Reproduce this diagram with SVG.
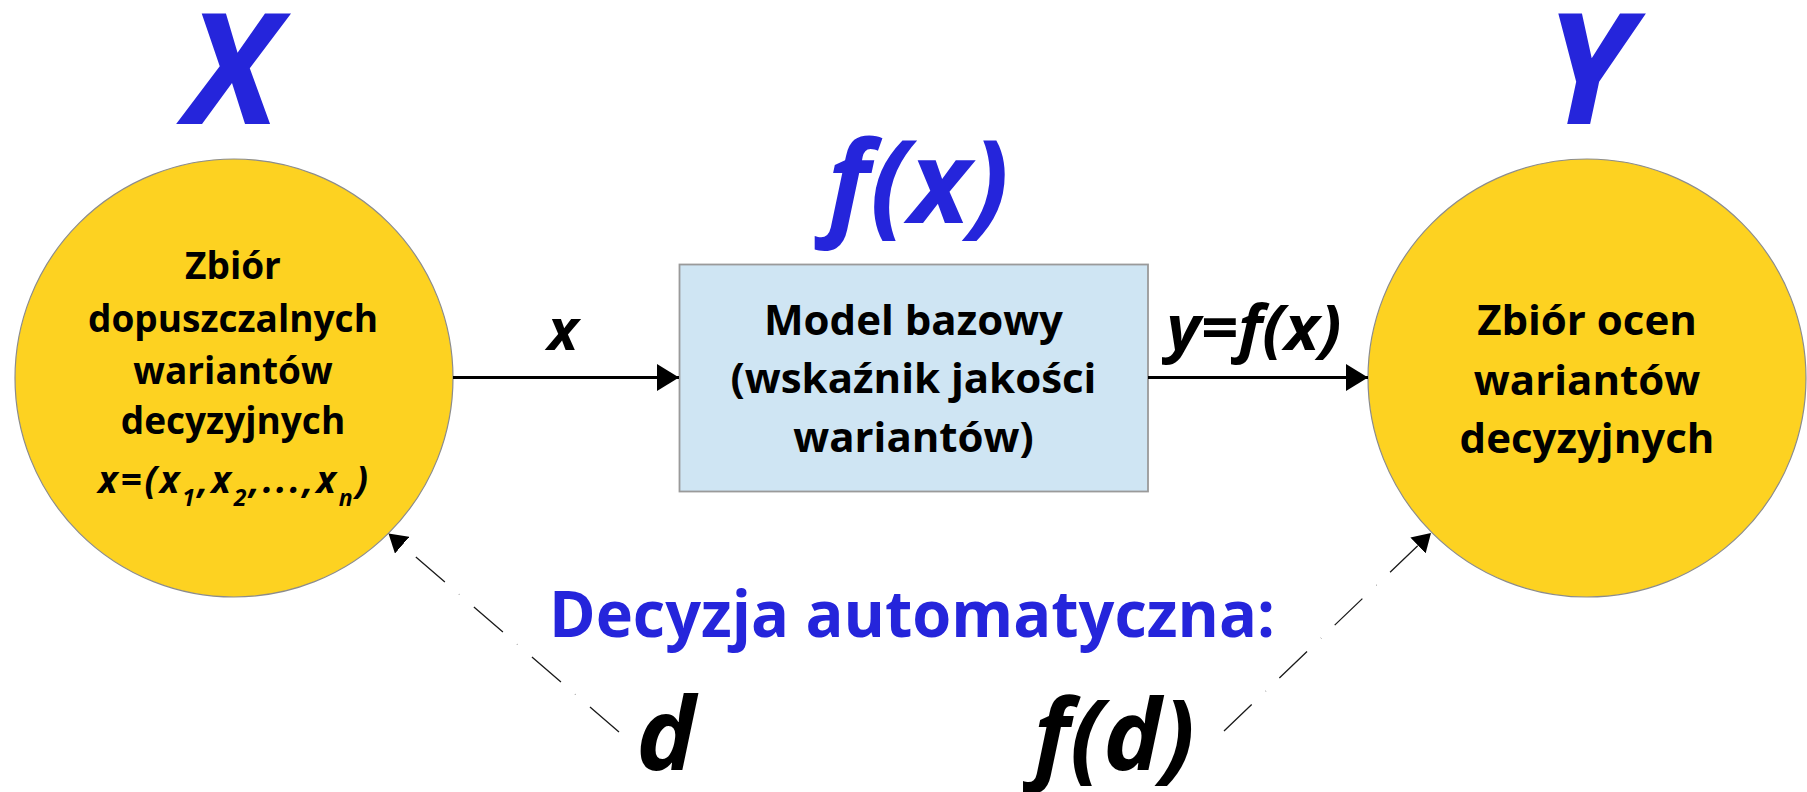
<svg xmlns="http://www.w3.org/2000/svg" width="1807" height="792" viewBox="0 0 1807 792">
  <defs>
    <style>
      text { font-family: "Open Sans", "Noto Sans", "DejaVu Sans", sans-serif; font-weight: 700; text-anchor: middle; }
      .set { fill: #fdd221; stroke: #8c8c8c; stroke-width: 1.2; }
      .model { fill: #cfe5f3; stroke: #9a9a9a; stroke-width: 1.8; }
      .body { font-size: 37px; fill: #000; }
      .body-l { font-size: 42px; fill: #000; }
      .math { font-style: italic; }
      .blue { fill: #2525db; }
      .flow { fill: none; stroke: #000; stroke-width: 3; }
      .feedback { fill: none; stroke: #1a1a1a; stroke-width: 1.3; stroke-dasharray: 38.3 19.3 0.3 18.7; }
    </style>
    <marker id="head" markerUnits="userSpaceOnUse" markerWidth="22" markerHeight="27" refX="22" refY="13.5" orient="auto">
      <path d="M0,0 L22,13.5 L0,27 Z" fill="#000"/>
    </marker>
    <marker id="head-thin" markerUnits="userSpaceOnUse" markerWidth="18" markerHeight="22" refX="18" refY="11" orient="auto">
      <path d="M0,0 L18,11 L0,22 Z" fill="#000"/>
    </marker>
  </defs>

  <rect width="1807" height="792" fill="#fff"/>

  <!-- set of admissible decision variants -->
  <g id="node-variants">
    <text class="blue math" x="232" y="124" font-size="155">X</text>
    <circle class="set" cx="234" cy="378" r="219"/>
    <text class="body" x="233" y="279">Zbiór</text>
    <text class="body" x="233" y="332">dopuszczalnych</text>
    <text class="body" x="233" y="384">wariantów</text>
    <text class="body" x="233" y="434">decyzyjnych</text>
    <text class="body math" x="233" y="493" font-size="38" textLength="270" lengthAdjust="spacing">x=(x<tspan dy="13" font-size="23">1</tspan><tspan dy="-13">,x</tspan><tspan dy="13" font-size="23">2</tspan><tspan dy="-13">,...,x</tspan><tspan dy="13" font-size="23">n</tspan><tspan dy="-13">)</tspan></text>
  </g>

  <!-- base model -->
  <g id="node-model">
    <text class="blue math" x="918" y="223" font-size="115">f(x)</text>
    <rect class="model" x="679.5" y="264.5" width="468.5" height="227"/>
    <text class="body-l" x="913.5" y="335">Model bazowy</text>
    <text class="body-l" x="913.5" y="393">(wskaźnik jakości</text>
    <text class="body-l" x="913.5" y="452">wariantów)</text>
  </g>

  <!-- set of variant evaluations -->
  <g id="node-evaluations">
    <text class="blue math" x="1588" y="124" font-size="155">Y</text>
    <circle class="set" cx="1587" cy="378" r="219"/>
    <text class="body-l" x="1587" y="335">Zbiór ocen</text>
    <text class="body-l" x="1587" y="395">wariantów</text>
    <text class="body-l" x="1587" y="453">decyzyjnych</text>
  </g>

  <!-- automatic decision caption -->
  <g id="caption">
    <text class="blue" x="912" y="637" font-size="65" textLength="726" lengthAdjust="spacingAndGlyphs">Decyzja automatyczna:</text>
    <text class="math" x="666" y="770" font-size="100">d</text>
    <text class="math" x="1114" y="770" font-size="98">f(d)</text>
  </g>

  <!-- connectors -->
  <g id="connectors">
    <path class="flow" d="M453,377.5 L679,377.5" marker-end="url(#head)"/>
    <path class="flow" d="M1148,377.5 L1368,377.5" marker-end="url(#head)"/>
    <path class="feedback" d="M619,732 L388.5,533.5" marker-end="url(#head-thin)"/>
    <path class="feedback" d="M1224,731 L1431,533" marker-end="url(#head-thin)"/>
    <text class="math" x="563" y="350" font-size="58">x</text>
    <text class="math" x="1254" y="350" font-size="62" textLength="175" lengthAdjust="spacingAndGlyphs">y=f(x)</text>
  </g>
</svg>
